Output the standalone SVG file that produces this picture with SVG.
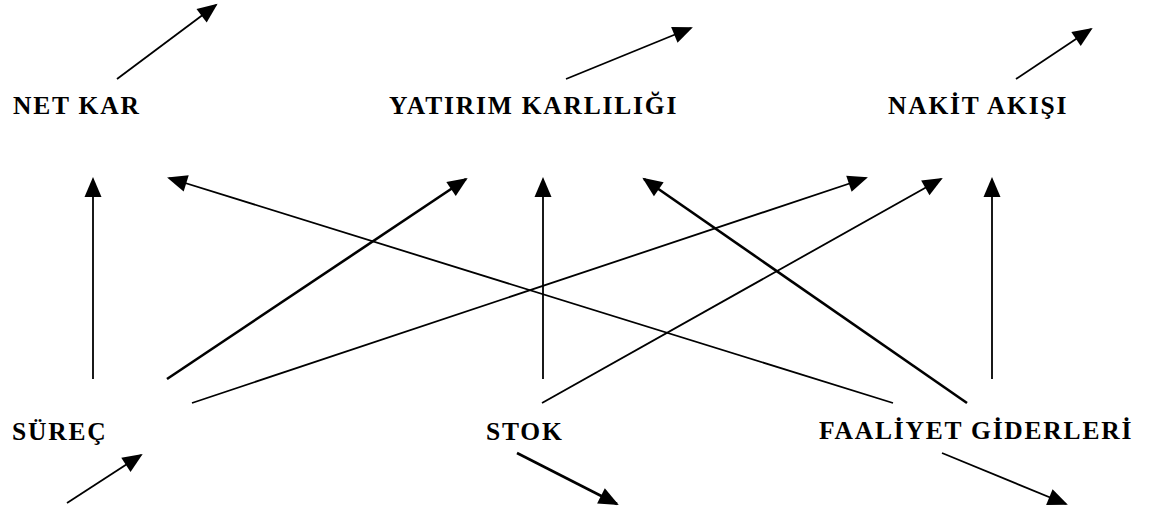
<svg xmlns="http://www.w3.org/2000/svg" width="1151" height="507" viewBox="0 0 1151 507">
<style>
.lbl{font-family:"Liberation Serif","Times New Roman",serif;font-weight:bold;font-size:25.5px;letter-spacing:1.8px;fill:#000}
.c{stroke:#000;stroke-width:1.8;fill:none;marker-end:url(#ah)}
.t{stroke-width:2.6}
</style>
<defs>
<marker id="ah" markerUnits="userSpaceOnUse" markerWidth="22" markerHeight="17" refX="18" refY="8.5" orient="auto" overflow="visible">
<path d="M0,0 L20,8.5 L0,17 Z" fill="#000"/>
</marker>
</defs>
<rect width="1151" height="507" fill="#fff"/>
<g id="net-kar"><text class="lbl" x="13" y="114">NET KAR</text></g>
<g id="yatirim-karliligi"><text class="lbl" x="389" y="114">YATIRIM KARLILIĞI</text></g>
<g id="nakit-akisi"><text class="lbl" x="888" y="114">NAKİT AKIŞI</text></g>
<g id="surec"><text class="lbl" x="12" y="440">SÜREÇ</text></g>
<g id="stok"><text class="lbl" x="486" y="440">STOK</text></g>
<g id="faaliyet-giderleri"><text class="lbl" x="819" y="439">FAALİYET GİDERLERİ</text></g>
<g id="connectors">
<line class="c" x1="117" y1="79" x2="216" y2="5"/>
<line class="c" x1="566" y1="79" x2="691" y2="28"/>
<line class="c" x1="1016" y1="79" x2="1091" y2="29"/>
<line class="c" x1="93" y1="379" x2="93" y2="179"/>
<line class="c" x1="893" y1="403" x2="169" y2="178"/>
<line class="c t" x1="167" y1="379" x2="466" y2="179"/>
<line class="c" x1="192" y1="403" x2="866" y2="178"/>
<line class="c" x1="543" y1="379" x2="543" y2="179"/>
<line class="c" x1="542" y1="403" x2="941" y2="179"/>
<line class="c t" x1="967" y1="403" x2="644" y2="179"/>
<line class="c" x1="992" y1="379" x2="992" y2="179"/>
<line class="c" x1="67" y1="503" x2="141" y2="455"/>
<line class="c t" x1="517" y1="453" x2="617" y2="504"/>
<line class="c" x1="942" y1="453" x2="1066" y2="504"/>
</g>
</svg>
